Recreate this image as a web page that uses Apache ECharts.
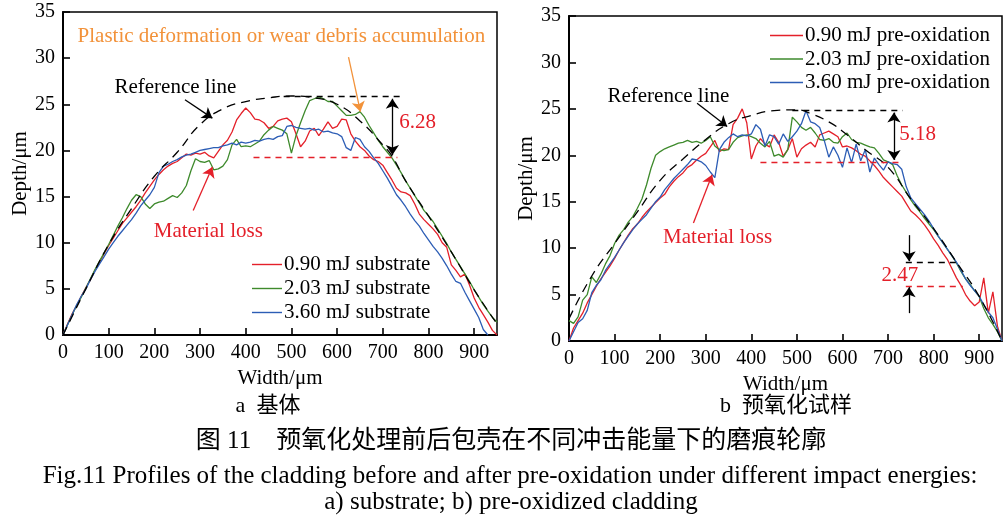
<!DOCTYPE html>
<html>
<head>
<meta charset="utf-8">
<script src="https://cdn.jsdelivr.net/npm/echarts@6/dist/echarts.min.js"></script>
<style>
html,body{margin:0;padding:0;background:#fff;}
#chart{width:1007px;height:520px;}
</style>
</head>
<body>
<div id="chart"></div>
<script>
// 横坐标 (μm)
var widths = [0,10,20,30,40,50,60,70,80,90,100,110,120,130,140,150,160,170,180,190,
    200,210,220,230,240,250,260,270,280,290,300,310,320,330,340,350,360,370,380,390,
    400,410,420,430,440,450,460,470,480,490,500,510,520,530,540,550,560,570,580,590,
    600,610,620,630,640,650,660,670,680,690,700,710,720,730,740,750,760,770,780,790,
    800,810,820,830,840,850,860,870,880,890,900,910,920,930,940,950];

// a 基体
var redA = [0,1.2,2.3,3.2,4.2,5.1,6.0,7.0,7.9,8.8,9.7,10.5,11.3,12.1,12.7,13.3,13.9,14.6,15.4,16.1,
    16.8,17.4,17.9,18.3,18.6,18.8,19.2,19.6,19.5,19.7,19.6,19.8,19.4,19.2,19.9,20.6,21.1,22.0,23.3,24.0,
    24.6,24.1,23.4,23.3,23.0,22.4,22.6,23.2,23.4,23.5,23.1,21.8,20.4,21.0,22.1,22.4,21.6,22.3,23.1,22.4,
    22.6,23.4,23.3,21.8,21.0,20.4,20.0,19.4,19.0,18.8,18.4,17.6,16.8,15.9,15.5,15.4,15.1,14.2,13.1,12.5,
    12.0,11.5,10.9,10.0,9.5,7.6,7.0,6.3,6.6,5.4,4.0,3.0,2.2,1.4,0.5,0];
var greenA = [0,1.1,2.2,3.2,4.1,5.1,6.1,7.1,8.0,8.9,9.8,10.8,11.8,12.7,13.7,14.6,15.2,15.0,14.2,13.7,
    14.2,14.4,14.5,14.8,15.1,14.9,15.4,16.2,17.8,19.1,18.8,18.7,18.9,17.9,18.0,18.3,19.0,20.6,21.2,20.4,
    20.5,20.4,20.7,21.0,21.7,22.2,22.6,22.4,22.2,21.8,19.7,21.6,23.0,24.3,25.4,25.6,25.8,25.6,25.3,25.3,
    24.8,24.3,23.8,23.8,23.9,24.2,23.6,22.7,21.9,21.1,20.4,19.8,19.2,18.4,17.6,16.7,15.9,15.1,14.3,13.5,
    12.9,12.3,11.5,10.7,9.9,9.0,8.2,7.4,6.6,5.8,4.9,4.1,3.3,2.6,1.9,1.4];
var blueA = [0,1.1,2.2,3.3,4.2,5.0,6.0,6.9,7.7,8.5,9.3,10.0,10.7,11.3,11.9,12.5,13.2,14.0,14.6,15.2,
    16.0,17.6,18.3,18.5,18.8,19.0,19.3,19.5,19.6,19.8,20.0,20.1,20.2,20.3,20.3,20.5,20.6,20.8,20.6,20.9,
    20.8,20.9,21.1,21.0,21.2,21.3,21.2,21.5,21.6,22.6,22.7,22.5,22.4,22.3,22.4,22.2,22.3,22.0,22.1,21.9,
    21.8,21.5,20.3,20.0,21.4,21.2,20.4,19.9,19.2,18.6,17.8,17.0,16.1,15.2,14.6,13.9,13.1,12.4,11.8,11.0,
    10.3,9.6,9.0,8.3,7.5,6.6,5.8,5.6,4.6,3.7,2.8,1.9,0.6,0,null,null];
var refA_x = [0,50,100,150,200,250,300,350,400,450,500,550,600,650,700,720,750,800,850,900,950];
var refA_y = [0,5.0,9.8,13.7,17.2,19.8,22.8,24.5,25.3,25.7,25.9,25.7,25.0,23.2,20.6,19.4,16.7,12.9,9.0,4.9,1.2];

// b 预氧化试样
var redB = [0,1.4,2.2,3.0,4.1,5.0,5.9,6.7,7.4,8.1,8.9,9.8,10.6,11.4,12.1,12.6,13.3,13.9,14.4,14.9,
    15.4,15.8,16.6,17.2,17.7,18.1,18.7,19.0,19.5,19.9,20.2,20.9,21.6,20.4,20.7,20.6,23.3,24.0,25.0,23.5,
    19.6,21.0,21.8,21.2,20.9,22.2,21.4,19.9,20.6,21.8,19.8,20.7,21.1,21.4,20.9,22.2,22.4,22.6,22.3,22.0,
    20.9,21.0,20.8,20.5,20.1,19.9,19.4,18.9,18.3,17.6,17.1,16.6,16.1,15.6,14.8,14.0,13.6,13.1,12.5,11.8,
    11.0,10.3,9.5,8.8,7.8,6.8,6.0,5.0,4.3,3.8,4.2,6.8,3.0,5.3,1.6,0];
var greenB = [2.2,1.9,2.6,4.4,5.0,6.9,6.3,7.2,8.3,9.2,10.5,11.4,12.0,12.8,13.4,14.3,15.3,16.8,18.6,20.0,
    20.4,20.7,20.9,21.1,21.3,21.4,21.6,21.4,21.5,21.3,21.6,22.0,21.0,20.6,20.5,20.6,21.4,21.9,22.1,22.2,
    22.0,21.8,21.3,20.9,21.5,19.9,20.1,19.8,20.6,24.1,23.6,23.0,22.7,23.0,22.4,21.7,21.6,21.8,21.4,21.3,
    22.0,22.4,21.7,21.4,21.3,21.1,20.9,20.8,20.2,19.5,19.3,19.0,17.8,16.8,16.0,15.2,14.5,13.9,13.2,12.6,
    12.0,11.3,10.6,9.9,9.2,8.4,7.5,6.7,6.1,5.4,4.8,3.5,2.5,1.8,1.0,0];
var blueB = [0,1.0,2.0,2.4,3.3,5.2,6.0,6.6,7.6,8.3,9.0,9.8,10.6,11.3,12.0,12.6,13.1,13.6,14.3,15.0,
    15.5,16.3,16.9,17.5,18.0,18.5,19.0,19.6,19.5,19.3,18.9,18.2,17.6,20.6,21.4,21.9,22.3,22.0,22.2,22.1,
    22.3,23.3,22.8,21.0,22.2,22.0,21.2,22.3,21.5,22.0,22.6,23.4,24.8,23.6,23.4,23.0,21.6,19.8,20.9,20.0,
    18.7,20.8,19.2,21.2,19.4,20.6,18.2,19.7,19.0,18.4,19.3,19.1,19.0,18.5,16.6,15.4,14.8,14.2,13.6,12.9,
    12.1,11.3,10.6,9.9,9.2,8.5,7.6,6.7,6.0,5.4,4.8,3.9,3.1,2.5,1.3,0];
var refB_x = [0,50,100,150,200,250,300,350,400,450,500,530,570,600,650,700,750,800,850,900,950];
var refB_y = [2.4,7.0,10.5,13.9,17.3,19.6,21.7,23.4,24.3,24.8,24.9,24.5,23.6,22.6,20.6,18.7,15.3,12.1,8.5,4.8,0];

var namesA = ['0.90 mJ substrate', '2.03 mJ substrate', '3.60 mJ substrate'];
var namesB = ['0.90 mJ pre-oxidation', '2.03 mJ pre-oxidation', '3.60 mJ pre-oxidation'];
var xTicks = [0, 950, 100];   // min, max, interval
var yTicks = [0, 35, 5];

var RED = '#e4202a', GREEN = '#3e8a2c', BLUE = '#2c5db5', ORANGE = '#f2923a';
var SERIF = '"Liberation Serif", "Times New Roman", serif';
var CJK = '"Liberation Serif", "Noto Sans CJK SC", serif';

function pairs(xs, ys) {
    var out = [];
    for (var i = 0; i < xs.length; i++) {
        if (ys[i] !== null && ys[i] !== undefined) out.push([xs[i], ys[i]]);
    }
    return out;
}

// 标注线段
function seg(p1, p2, color, dashed, s1, s2) {
    return [
        {coord: p1, symbol: s1 || 'none', lineStyle: {color: color, width: 1.3, type: dashed ? [6, 5] : 'solid'}},
        {coord: p2, symbol: s2 || 'none'}
    ];
}
// 标注文字
function txt(p, text, color) {
    return {
        coord: p, symbol: 'rect', symbolSize: 1, itemStyle: {color: 'rgba(0,0,0,0)'},
        label: {show: true, position: 'inside', formatter: text, color: color, fontSize: 21, fontFamily: SERIF}
    };
}

function xAxisOf(idx) {
    return {
        type: 'value', gridIndex: idx, min: xTicks[0], max: xTicks[1], interval: xTicks[2],
        name: 'Width/μm', nameLocation: 'middle', nameGap: idx === 0 ? 33 : 31,
        nameTextStyle: {color: '#000', fontSize: 21, fontFamily: SERIF},
        axisLine: {show: true, onZero: false, lineStyle: {color: '#000', width: 2}},
        axisTick: {show: true, inside: true, length: 7, lineStyle: {color: '#000', width: 1.6}},
        axisLabel: {color: '#000', fontSize: 20, fontFamily: SERIF, margin: 8, showMaxLabel: false},
        splitLine: {show: false}
    };
}
function yAxisOf(idx) {
    return {
        type: 'value', gridIndex: idx, min: yTicks[0], max: yTicks[1], interval: yTicks[2],
        name: 'Depth/μm', nameLocation: 'middle', nameGap: 30,
        nameTextStyle: {color: '#000', fontSize: 21, fontFamily: SERIF},
        axisLine: {show: true, lineStyle: {color: '#000', width: 2}},
        axisTick: {show: true, inside: true, length: 7, lineStyle: {color: '#000', width: 1.6}},
        axisLabel: {color: '#000', fontSize: 20, fontFamily: SERIF, margin: 8},
        splitLine: {show: false}
    };
}
function lineOf(name, idx, data, color) {
    return {
        name: name, type: 'line', xAxisIndex: idx, yAxisIndex: idx, data: data,
        symbol: 'none', lineStyle: {color: color, width: 1.3}, itemStyle: {color: color}
    };
}
function refOf(idx, data, lines, texts) {
    return {
        name: 'ref' + idx, type: 'line', xAxisIndex: idx, yAxisIndex: idx, data: data, smooth: true,
        symbol: 'none', lineStyle: {color: '#000', width: 1.3, type: [9, 6]}, z: 3,
        markLine: {silent: true, symbolSize: 10, label: {show: false}, data: lines},
        markPoint: {silent: true, data: texts}
    };
}

var linesA = [
    seg([483, 25.9], [739, 25.9], '#000', true),
    seg([417, 19.25], [732, 19.25], RED, true),
    seg([721, 25.6], [721, 19.5], '#000', false, 'arrow', 'arrow'),
    seg([267, 25.5], [327, 23.5], '#000', false, 'none', 'arrow'),
    seg([285, 13.5], [327, 18.2], RED, false, 'none', 'arrow'),
    seg([625, 30.1], [651, 24.2], ORANGE, false, 'none', 'arrow')
];
var textsA = [
    txt([246, 26.8], 'Reference line', '#000'),
    txt([478, 32.3], 'Plastic deformation or wear debris accumulation', ORANGE),
    txt([318, 11.2], 'Material loss', RED),
    txt([776, 23.0], '6.28', RED)
];
var linesB = [
    seg([490, 24.9], [732, 24.9], '#000', true),
    seg([420, 19.25], [732, 19.25], RED, true),
    seg([713, 24.6], [713, 19.5], '#000', false, 'arrow', 'arrow'),
    seg([281, 25.6], [347, 23.1], '#000', false, 'none', 'arrow'),
    seg([273, 12.7], [314, 17.9], RED, false, 'none', 'arrow'),
    seg([739, 8.47], [860, 8.47], '#000', true),
    seg([739, 5.9], [864, 5.9], RED, true),
    seg([746, 11.4], [746, 8.6], '#000', false, 'none', 'arrow'),
    seg([746, 3.0], [746, 5.8], '#000', false, 'none', 'arrow')
];
var textsB = [
    txt([218, 26.3], 'Reference line', '#000'),
    txt([326, 11.2], 'Material loss', RED),
    txt([765, 22.2], '5.18', RED),
    txt([726, 7.1], '2.47', RED)
];

var myChart = echarts.init(document.getElementById('chart'), null, {renderer: 'canvas'});
var option = {
    animation: false,
    backgroundColor: '#fff',
    textStyle: {fontFamily: SERIF},
    grid: [
        {left: 63, top: 12, width: 434, height: 323, show: true, borderColor: '#000', borderWidth: 1.5, backgroundColor: 'transparent'},
        {left: 569, top: 16, width: 433, height: 325, show: true, borderColor: '#000', borderWidth: 1.5, backgroundColor: 'transparent'}
    ],
    xAxis: [xAxisOf(0), xAxisOf(1)],
    yAxis: [yAxisOf(0), yAxisOf(1)],
    legend: [
        {data: namesA, orient: 'vertical', left: 247, top: 249, icon: 'rect', itemWidth: 30, itemHeight: 1.4, itemGap: 3,
         textStyle: {color: '#000', fontSize: 21, fontFamily: SERIF, padding: [0, 0, 0, -3]}},
        {data: namesB, orient: 'vertical', left: 765, top: 20, icon: 'rect', itemWidth: 33, itemHeight: 1.4, itemGap: 2.5,
         textStyle: {color: '#000', fontSize: 21, fontFamily: SERIF, padding: [0, 0, 0, -3]}}
    ],
    series: [
        lineOf(namesA[0], 0, pairs(widths, redA), RED),
        lineOf(namesA[1], 0, pairs(widths, greenA), GREEN),
        lineOf(namesA[2], 0, pairs(widths, blueA), BLUE),
        refOf(0, pairs(refA_x, refA_y), linesA, textsA),
        lineOf(namesB[0], 1, pairs(widths, redB), RED),
        lineOf(namesB[1], 1, pairs(widths, greenB), GREEN),
        lineOf(namesB[2], 1, pairs(widths, blueB), BLUE),
        refOf(1, pairs(refB_x, refB_y), linesB, textsB)
    ],
    graphic: [
        {type: 'text', x: 268, y: 406, style: {text: 'a  基体', fill: '#000', font: '22px ' + CJK, textAlign: 'center', textVerticalAlign: 'middle'}},
        {type: 'text', x: 786, y: 406, style: {text: 'b  预氧化试样', fill: '#000', font: '22px ' + CJK, textAlign: 'center', textVerticalAlign: 'middle'}},
        {type: 'text', x: 511, y: 441, style: {text: '图 11　预氧化处理前后包壳在不同冲击能量下的磨痕轮廓', fill: '#000', font: '25px ' + CJK, textAlign: 'center', textVerticalAlign: 'middle'}},
        {type: 'text', x: 510, y: 476, style: {text: 'Fig.11 Profiles of the cladding before and after pre-oxidation under different impact energies:', fill: '#000', font: '25px ' + SERIF, textAlign: 'center', textVerticalAlign: 'middle'}},
        {type: 'text', x: 511, y: 502, style: {text: 'a) substrate; b) pre-oxidized cladding', fill: '#000', font: '25px ' + SERIF, textAlign: 'center', textVerticalAlign: 'middle'}}
    ]
};
myChart.setOption(option);
</script>
</body>
</html>
